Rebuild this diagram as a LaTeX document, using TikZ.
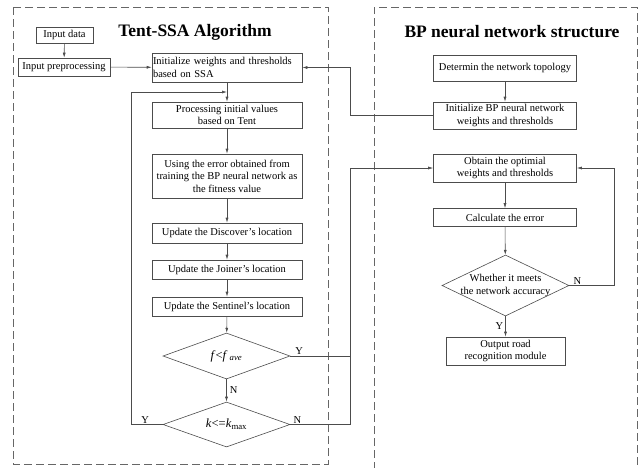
\documentclass[tikz,border=0pt]{standalone}
\usepackage{fontspec}
\setmainfont{Liberation Serif}
\usetikzlibrary{positioning}
\usetikzlibrary{shapes.geometric}
\usetikzlibrary{arrows.meta}

\begin{document}
\begin{tikzpicture}[x=1pt, y=-1pt,
    proc/.style={draw=black!70, line width=0.6pt, minimum width=150pt,
      inner sep=1pt, align=center, font=\fontsize{10.5}{12.5}\selectfont},
    bpproc/.style={proc, minimum width=143pt},
    decision/.style={draw=black!70, line width=0.6pt, diamond, inner sep=0pt,
      minimum width=127pt},
    dtext/.style={font=\fontsize{10.5}{12.5}\selectfont, align=center, inner sep=0pt},
    cmptext/.style={dtext, font=\fontsize{12.5}{14}\selectfont},
    flow/.style={draw=black!70, line width=0.6pt, -{Latex[length=5pt,width=3pt]}},
    link/.style={draw=black!70, line width=0.6pt},
    frame/.style={draw=black!60, line width=0.7pt, dash pattern=on 8pt off 4pt},
    heading/.style={font=\fontsize{17.5}{20}\selectfont\bfseries},
    yn/.style={font=\fontsize{10.5}{12}\selectfont, inner sep=1pt}
    ]

    \useasboundingbox (0,0) rectangle (642,467);

    % the two parts
    \draw[frame] (13,7) rectangle (328,464);
    \draw[frame] (374,470) -- (374,7) -- (637,7) -- (637,470);
    \node[heading] (ssatitle) at (195,32) {Tent-SSA Algorithm};
    \node[heading] (bptitle) at (512,32) {BP neural network structure};

    \coordinate (lbus) at (131,0);
    \coordinate (rbus) at (350,0);
    \coordinate (loopin) at (227,92);

    % Tent-SSA
    \node[proc, minimum width=57pt, minimum height=16pt] (indata) at (64.5,35) {Input data};
    \node[proc, minimum width=92pt, minimum height=18pt] (inprep) at (64,67) {Input preprocessing};
    \node[proc, minimum height=29pt, text width=148pt, align=left] (initssa) at (227,67.5)
      {Initialize weights and thresholds\\based on SSA};
    \node[proc, minimum height=26pt] (tent) at (227,115) {Processing initial values\\based on Tent};
    \node[proc, minimum height=44pt] (fit) at (227,176)
      {Using the error obtained from\\training the BP neural network as\\the fitness value};
    \node[proc, minimum height=20pt] (disc) at (227,233) {Update the Discover's location};
    \node[proc, minimum height=19pt] (join) at (227,269.5) {Update the Joiner's location};
    \node[proc, minimum height=19pt] (sent) at (227,306.5) {Update the Sentinel's location};
    \node[decision, minimum height=46pt,
      label={[cmptext]center:\textit{f}<\textit{f}\,\textsubscript{\textit{ave}}}] (cmpf) at (226.5,356) {};
    \node[decision, minimum height=45pt,
      label={[cmptext]center:\textit{k}<=\textit{k}\textsubscript{max}}] (cmpk) at (226.5,424.5) {};

    % BP network
    \node[bpproc, minimum height=26pt] (topo) at (505,68) {Determin the network topology};
    \node[bpproc, minimum height=27pt] (bpinit) at (505,115.5)
      {Initialize BP neural network\\weights and thresholds};
    \node[bpproc, minimum height=28pt] (optw) at (505,168) {Obtain the optimial\\weights and thresholds};
    \node[bpproc, minimum height=18pt] (calc) at (505,217.5) {Calculate the error};
    \node[decision, minimum height=61pt,
      label={[dtext]center:Whether it meets\\the network accuracy}] (acc) at (505.5,285.5) {};
    \node[proc, minimum width=119pt, minimum height=28pt] (outp) at (505.5,351)
      {Output road\\recognition module};

    \draw[flow] (indata) -- (inprep);
    \draw[flow] (inprep) -- (initssa);
    \draw[flow] (initssa) -- (tent);
    \draw[flow] (tent) -- (fit);
    \draw[flow] (fit) -- (disc);
    \draw[flow] (disc) -- (join);
    \draw[flow] (join) -- (sent);
    \draw[flow] (sent) -- (cmpf);
    \draw[flow] (cmpf) -- node[yn, right=2pt] {N} (cmpk);
    \draw[flow] (cmpk.west) -- node[yn, above, pos=0.55] {Y} (cmpk.west -| lbus) |- (loopin);
    \draw[link] (cmpf.east) -- node[yn, above, pos=0.15] {Y} (cmpf.east -| rbus);
    \draw[flow] (cmpk.east) -- node[yn, above, pos=0.12] {N} (cmpk.east -| rbus) |- (optw.west);

    \draw[flow] (topo) -- (bpinit);
    \draw[flow] (bpinit.west) -- (bpinit.west -| rbus) |- (initssa.east);
    \draw[flow] (optw) -- (calc);
    \draw[flow] (calc) -- (acc);
    \draw[flow] (acc.east) -- node[yn, above, pos=0.18] {N} ++(45,0) |- (optw.east);
    \draw[flow] (acc) -- node[yn, left=1pt] {Y} (outp);

\end{tikzpicture}
\end{document}
